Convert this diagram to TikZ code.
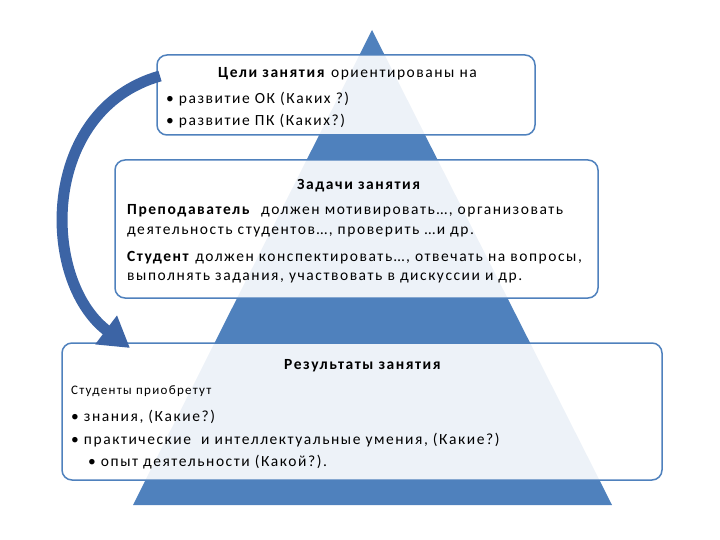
\documentclass[tikz,border=0pt]{standalone}
\usepackage{fontspec}
\setmainfont{Carlito}[LetterSpace=10]
\usetikzlibrary{arrows.meta}
\definecolor{tri}{RGB}{79,129,189}
\definecolor{bord}{RGB}{79,129,189}
\definecolor{arr}{RGB}{60,100,165}
\begin{document}
\begin{tikzpicture}[x=1pt,y=-1pt,
  box/.style={draw=bord,line width=1.5pt,rounded corners=10pt,fill=white,fill opacity=0.9},
  txt/.style={font=\fontsize{15.5}{17}\selectfont,anchor=west,inner sep=0pt}]
\useasboundingbox (0,0) rectangle (720,540);
\fill[tri] (372,30) -- (612,505) -- (133,505) -- cycle;
\draw[box] (157,55) rectangle (535,135);
\draw[box] (115,160) rectangle (598,298);
\draw[box] (62,343) rectangle (662,480);
\node[txt] (t1) at (218,74) {\textbf{Цели занятия} ориентированы на};
\node[txt] (t2) at (166,99) {• развитие ОК (Каких ?)};
\node[txt] (t3) at (166,121) {• развитие ПК (Каких?)};
\node[txt] (t4) at (297,186) {\textbf{Задачи занятия}};
\node[txt] (t5) at (127,211) {\textbf{Преподаватель} \ должен мотивировать…, организовать};
\node[txt] (t6) at (127,232) {деятельность студентов…, проверить …и др.};
\node[txt] (t7) at (127,258) {\textbf{Студент} должен конспектировать…, отвечать на вопросы,};
\node[txt] (t8) at (127,278) {выполнять задания, участвовать в дискуссии и др.};
\node[txt] (t9) at (284,366) {\textbf{Результаты занятия}};
\node[txt,font=\fontsize{13}{14}\selectfont] (t10) at (71,391) {Студенты приобретут};
\node[txt] (t11) at (71,417) {• знания, (Какие?)};
\node[txt] (t12) at (71,440) {• практические \ и интеллектуальные умения, (Какие?)};
\node[txt] (t13) at (88,462) {• опыт деятельности (Какой?).};
\coordinate (s) at (160,76);
\coordinate (e) at (130,348);
\draw[arr,line width=11pt,-{Triangle[width=34pt,length=30pt]}] (s) .. controls (40,110) and (40,280) .. (e);
\end{tikzpicture}
\end{document}
